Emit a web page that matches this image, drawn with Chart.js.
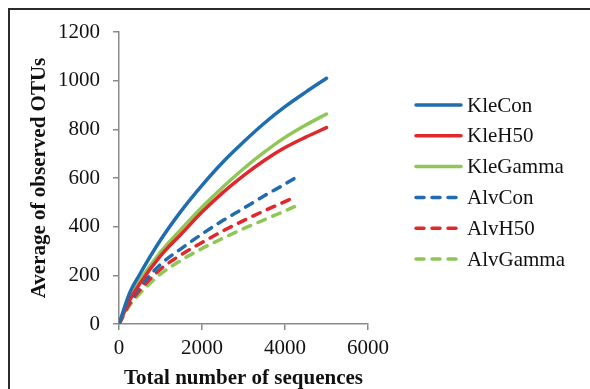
<!DOCTYPE html>
<html>
<head>
<meta charset="utf-8">
<script src="https://cdn.jsdelivr.net/npm/chart.js@4/dist/chart.umd.min.js"></script>
<style>
  html, body { margin: 0; padding: 0; background: #fff; }
  #wrap { position: relative; width: 590px; height: 389px; overflow: hidden; }
  #moldura { position: absolute; left: 8px; top: 8px; right: -4px; bottom: -4px;
             border-top: 2px solid #2b2b2b; border-left: 2px solid #2b2b2b; pointer-events: none; }
</style>
</head>
<body>
<div id="wrap">
  <canvas id="grafico" width="590" height="389"></canvas>
  <div id="moldura"></div>
</div>
<script>
// Valores
const nomesSeries = ['KleCon', 'KleH50', 'KleGamma', 'AlvCon', 'AlvH50', 'AlvGamma'];

const xKle = [0, 250, 500, 1000, 1500, 2000, 2500, 3000, 3500, 4000, 4500, 5000];
const xAlv = [0, 250, 500, 1000, 1500, 2000, 2500, 3000, 3500, 4000, 4230];

const kleCon   = [0, 125, 204, 345, 465, 570, 665, 748, 825, 893, 953, 1010];
const kleH50   = [0, 95, 165, 280, 370, 460, 540, 610, 672, 725, 768, 807];
const kleGamma = [0, 103, 177, 295, 390, 480, 562, 638, 706, 767, 818, 863];
const alvCon   = [0, 90, 150, 245, 310, 370, 425, 475, 527, 575, 599];
const alvH50   = [0, 82, 138, 225, 285, 335, 382, 425, 465, 503, 521];
const alvGamma = [0, 75, 125, 205, 262, 310, 352, 392, 428, 465, 482];

const ticksX = [0, 2000, 4000, 6000];
const ticksY = [0, 200, 400, 600, 800, 1000, 1200];

const AZUL = '#1f6cae';
const VERMELHO = '#e0282c';
const VERDE = '#8fc756';
const FONTE = '"Liberation Serif", "Times New Roman", serif';

function pontos(xs, ys) {
    return ys.map((y, i) => ({ x: xs[i], y: y }));
}

function serie(nome, xs, ys, cor, tracejado) {
    return {
        label: nome,
        data: pontos(xs, ys),
        borderColor: cor,
        backgroundColor: cor,
        borderWidth: 3.5,
        borderDash: tracejado ? [8, 8] : [],
        borderCapStyle: 'round',
        pointRadius: 0,
        cubicInterpolationMode: 'monotone',
        fill: false
    };
}

// Legenda desenhada à mão, à direita do gráfico
const legendaLateral = {
    id: 'legendaLateral',
    afterDraw(chart) {
        const ctx = chart.ctx;
        const x0 = 414, x1 = 463, topo = 105, passo = 30.8;
        ctx.save();
        chart.data.datasets.forEach((ds, i) => {
            const y = topo + i * passo;
            ctx.beginPath();
            ctx.strokeStyle = ds.borderColor;
            ctx.lineWidth = 3.5;
            ctx.lineCap = 'round';
            ctx.setLineDash(ds.borderDash);
            ctx.moveTo(x0 + 2, y);
            ctx.lineTo(x1 - 2, y);
            ctx.stroke();
            ctx.setLineDash([]);
            ctx.fillStyle = '#111';
            ctx.font = '21px ' + FONTE;
            ctx.textBaseline = 'middle';
            ctx.textAlign = 'left';
            ctx.fillText(ds.label, 467, y + 1);
        });
        ctx.restore();
    }
};

const ctx = document.getElementById('grafico');
new Chart(ctx, {
    type: 'line',
    data: {
        datasets: [
            serie(nomesSeries[0], xKle, kleCon, AZUL, false),
            serie(nomesSeries[1], xKle, kleH50, VERMELHO, false),
            serie(nomesSeries[2], xKle, kleGamma, VERDE, false),
            serie(nomesSeries[3], xAlv, alvCon, AZUL, true),
            serie(nomesSeries[4], xAlv, alvH50, VERMELHO, true),
            serie(nomesSeries[5], xAlv, alvGamma, VERDE, true)
        ]
    },
    options: {
        responsive: false,
        animation: false,
        devicePixelRatio: 1,
        layout: { padding: { left: 10, right: 222, top: 32, bottom: 0 } },
        plugins: {
            legend: { display: false },
            tooltip: { enabled: false }
        },
        scales: {
            x: {
                type: 'linear',
                min: 0,
                max: 6000,
                afterBuildTicks: (escala) => { escala.ticks = ticksX.map(v => ({ value: v })); },
                afterFit: (escala) => { escala.height = 65; },
                border: { color: '#8a8a8a', width: 1.5 },
                grid: { drawOnChartArea: false, drawTicks: true, tickLength: 6, color: '#8a8a8a', lineWidth: 1.5 },
                ticks: {
                    color: '#111', padding: 6, maxRotation: 0,
                    font: { family: FONTE, size: 21 },
                    callback: (valor) => String(valor)
                },
                title: {
                    display: true,
                    text: 'Total number of sequences',
                    color: '#111',
                    padding: { top: 0, bottom: 0 },
                    font: { family: FONTE, size: 21, weight: 'bold', lineHeight: 1.0 }
                }
            },
            y: {
                type: 'linear',
                min: 0,
                max: 1200,
                afterBuildTicks: (escala) => { escala.ticks = ticksY.map(v => ({ value: v })); },
                afterFit: (escala) => { escala.width = 109; },
                border: { color: '#8a8a8a', width: 1.5 },
                grid: { drawOnChartArea: false, drawTicks: true, tickLength: 6, color: '#8a8a8a', lineWidth: 1.5 },
                ticks: {
                    color: '#111', padding: 13,
                    font: { family: FONTE, size: 21 },
                    callback: (valor) => String(valor)
                },
                title: {
                    display: true,
                    text: 'Average of observed OTUs',
                    color: '#111',
                    padding: { top: 17, bottom: 0 },
                    font: { family: FONTE, size: 21, weight: 'bold', lineHeight: 1.2 }
                }
            }
        }
    },
    plugins: [legendaLateral]
});
</script>
</body>
</html>
